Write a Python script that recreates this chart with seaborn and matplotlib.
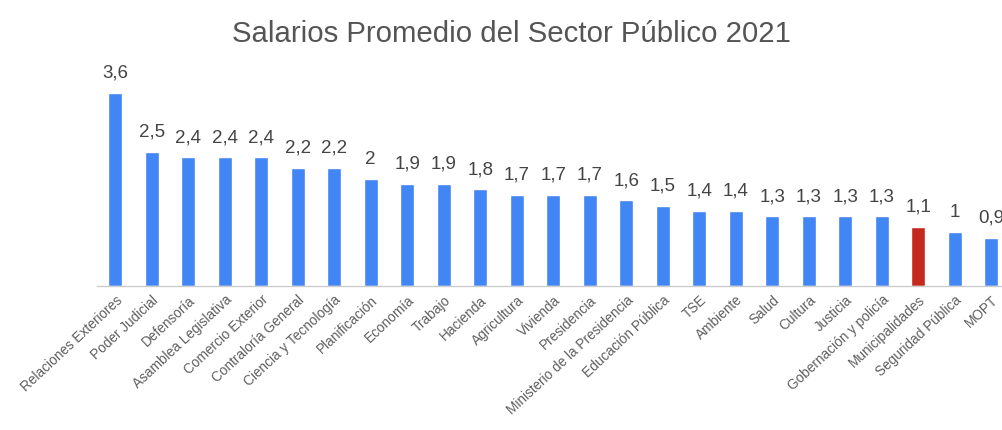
import matplotlib
matplotlib.use("Agg")
import matplotlib.pyplot as plt
import seaborn as sns
import pandas as pd

categories = ["Relaciones Exteriores", "Poder Judicial", "Defensoría", "Asamblea Legislativa",
              "Comercio Exterior", "Contraloría General", "Ciencia y Tecnología", "Planificación",
              "Economía", "Trabajo", "Hacienda", "Agricultura", "Vivienda", "Presidencia",
              "Ministerio de la Presidencia", "Educación Pública", "TSE", "Ambiente", "Salud",
              "Cultura", "Justicia", "Gobernación y policía", "Municipalidades",
              "Seguridad Pública", "MOPT"]
values = [3.6, 2.5, 2.4, 2.4, 2.4, 2.2, 2.2, 2.0, 1.9, 1.9, 1.8, 1.7, 1.7, 1.7, 1.6, 1.5,
          1.4, 1.4, 1.3, 1.3, 1.3, 1.3, 1.1, 1.0, 0.9]
highlight = "Municipalidades"

sns.set_theme(style="white")
plt.rcParams['font.family'] = ['Liberation Sans', 'DejaVu Sans']

df = pd.DataFrame({"cat": categories, "val": values})
palette = {c: ("#c5281c" if c == highlight else "#4285f4") for c in categories}

fig = plt.figure(figsize=(10.03, 4.30), dpi=100)
ax = fig.add_axes([0.0967, 0.335, 0.9098, 0.4986])
sns.barplot(data=df, x="cat", y="val", hue="cat", palette=palette, width=0.38,
            legend=False, ax=ax, saturation=1)
ax.set_xlim(-0.5, len(categories) - 0.5)
ax.set_ylim(0, 4.0)

def fmt(v):
    return ("%g" % v).replace(".", ",")

for cont in ax.containers:
    ax.bar_label(cont, labels=[fmt(b.get_height()) for b in cont], padding=8,
                 fontsize=13.5, color="#444444")

for s in ["top", "right", "left"]:
    ax.spines[s].set_visible(False)
ax.spines["bottom"].set_color("#cccccc")
ax.spines["bottom"].set_linewidth(1)
ax.set_yticks([])
ax.set_xlabel("")
ax.set_ylabel("")
ax.tick_params(axis="x", length=0, pad=5)
ax.set_xticks(range(len(categories)))
ax.set_xticklabels(categories, rotation=43, ha="right", rotation_mode="anchor",
                   fontsize=9.8, color="#5f5f5f")

fig.text(0.51, 0.922, "Salarios Promedio del Sector Público 2021", ha="center", va="center",
         fontsize=21.2, color="#555555")

fig.savefig("out.png", dpi=100)
